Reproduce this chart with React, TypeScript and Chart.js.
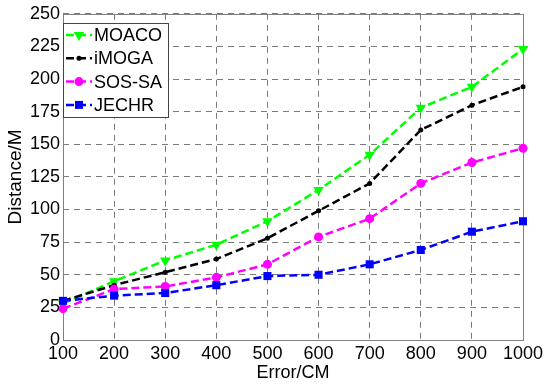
import React, { useEffect, useRef } from 'react';
import { Chart, registerables } from 'chart.js';
Chart.register(...registerables);

const errorCM = [100, 200, 300, 400, 500, 600, 700, 800, 900, 1000];
const moaco = [28, 45, 61, 73, 91, 115, 142, 178, 194, 223];
const imoga = [30, 42, 52, 62, 78, 99, 120, 161, 180, 194];
const sossa = [24, 39, 41, 48, 58, 79, 93, 120, 136, 147];
const jechr = [30, 34, 36, 42, 49, 50, 58, 69, 83, 91];
const seriesNames = ['MOACO', 'iMOGA', 'SOS-SA', 'JECHR'];
const seriesColors = ['#00ff00', '#000000', '#ff00ff', '#0000ff'];
const FONT = "'Liberation Sans', Arial, sans-serif";

function drawMarker(ctx: CanvasRenderingContext2D, i: number, x: number, y: number) {
  ctx.fillStyle = seriesColors[i];
  ctx.beginPath();
  if (i === 0) {
    const r = 6;
    ctx.moveTo(x - r * 0.866, y - r * 0.5);
    ctx.lineTo(x + r * 0.866, y - r * 0.5);
    ctx.lineTo(x, y + r);
    ctx.closePath();
  } else if (i === 1) {
    ctx.arc(x, y, 2.5, 0, Math.PI * 2);
  } else if (i === 2) {
    ctx.arc(x, y, 4.5, 0, Math.PI * 2);
  } else {
    ctx.rect(x - 4, y - 4, 8, 8);
  }
  ctx.fill();
}

const framePlugin = {
  id: 'frame',
  beforeDatasetsDraw(chart: any) {
    const { left, right, top, bottom } = chart.chartArea;
    const ctx = chart.ctx;
    ctx.save();
    ctx.strokeStyle = '#808080';
    ctx.lineWidth = 1;
    ctx.setLineDash([]);
    ctx.strokeRect(Math.round(left) + 0.5, Math.round(top) + 0.5, Math.round(right - left), Math.round(bottom - top));
    ctx.restore();
  },
};

const legendPlugin = {
  id: 'boxLegend',
  afterDraw(chart: any) {
    const ctx = chart.ctx as CanvasRenderingContext2D;
    const x0 = Math.round(chart.chartArea.left);
    const y0 = 23;
    const w = 105;
    const h = 94;
    ctx.save();
    ctx.fillStyle = '#ffffff';
    ctx.fillRect(x0, y0, w, h);
    ctx.strokeStyle = '#444444';
    ctx.lineWidth = 1;
    ctx.strokeRect(x0 + 0.5, y0 + 0.5, w, h);
    seriesNames.forEach((name, i) => {
      const cy = y0 + 12 + i * 23.3;
      ctx.strokeStyle = seriesColors[i];
      ctx.lineWidth = 2.5;
      ctx.setLineDash([8, 4]);
      ctx.beginPath();
      ctx.moveTo(x0 + 3, cy);
      ctx.lineTo(x0 + 29, cy);
      ctx.stroke();
      ctx.setLineDash([]);
      drawMarker(ctx, i, x0 + 16, cy);
      ctx.fillStyle = '#000';
      ctx.font = `18px ${FONT}`;
      ctx.textBaseline = 'middle';
      ctx.textAlign = 'left';
      ctx.fillText(name, x0 + 31, cy + 1);
    });
    ctx.restore();
  },
};

export default function App() {
  const ref = useRef<HTMLCanvasElement | null>(null);
  useEffect(() => {
    if (!ref.current) return;
    const all = [moaco, imoga, sossa, jechr];
    const styles = ['triangle', 'circle', 'circle', 'rect'];
    const radii = [6, 2.5, 4.5, 5.7];
    const chart = new Chart(ref.current, {
      type: 'line',
      data: {
        datasets: all.map((vals, i) => ({
          label: seriesNames[i],
          data: vals.map((v, j) => ({ x: errorCM[j], y: v })),
          borderColor: seriesColors[i],
          backgroundColor: seriesColors[i],
          pointBackgroundColor: seriesColors[i],
          pointBorderColor: seriesColors[i],
          pointBorderWidth: 0,
          borderWidth: 2.5,
          borderDash: [8, 4],
          pointStyle: styles[i] as any,
          pointRadius: radii[i],
          pointRotation: i === 0 ? 180 : 0,
          tension: 0,
          fill: false,
          order: 3 - i,
          clip: false as any,
        })),
      },
      options: {
        responsive: false,
        animation: false,
        layout: { padding: { top: 13, right: 27, left: 0, bottom: 0 } },
        plugins: { legend: { display: false }, tooltip: { enabled: false } },
        scales: {
          x: {
            type: 'linear',
            min: 100,
            max: 1000,
            ticks: {
              stepSize: 100, color: '#000', font: { family: FONT, size: 18 }, padding: 3, autoSkip: false, maxRotation: 0,
              callback: (v: any) => String(v),
            },
            grid: { color: '#7a7a7a', lineWidth: 1, drawTicks: false },
            border: { display: false, dash: [6, 5] },
            title: { display: true, text: 'Error/CM', color: '#000', font: { family: FONT, size: 18 }, padding: { top: 0, bottom: 2 } },
            afterFit: (s: any) => { s.height = 46; },
          },
          y: {
            type: 'linear',
            min: 0,
            max: 250,
            ticks: { stepSize: 25, color: '#000', font: { family: FONT, size: 18 }, padding: 3, callback: (v: any) => String(v) },
            grid: { color: '#7a7a7a', lineWidth: 1, drawTicks: false },
            border: { display: false, dash: [6, 5] },
            title: { display: true, text: 'Distance/M', color: '#000', font: { family: FONT, size: 19 }, padding: { top: 4, bottom: 0 } },
            afterFit: (s: any) => { s.width = 63; },
          },
        },
      },
      plugins: [framePlugin, legendPlugin],
    });
    return () => chart.destroy();
  }, []);
  return (
    <div style={{ position: 'absolute', left: 0, top: 0, width: 550, height: 386, background: '#fff' }}>
      <canvas ref={ref} width={550} height={386} />
    </div>
  );
}
